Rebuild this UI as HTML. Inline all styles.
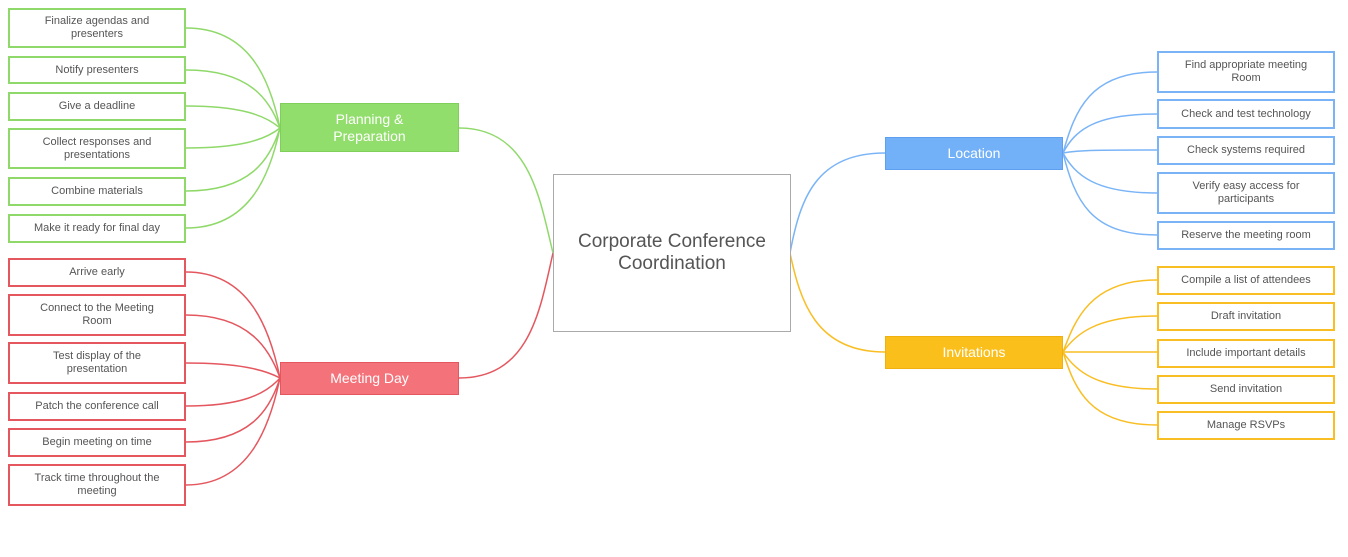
<!DOCTYPE html>
<html><head><meta charset="utf-8"><style>
body{margin:0;width:1348px;height:557px;background:#fff;overflow:hidden;font-family:"Liberation Sans",sans-serif}
.b{position:absolute;box-sizing:border-box;display:flex;align-items:center;justify-content:center;text-align:center;font-size:11px;color:#555;line-height:13px;background:#fff;border:2px solid}
.g{border-color:#8fd96a}.r{border-color:#e4575f}.bl{border-color:#7ab4f7}.y{border-color:#f8be24}
.m{color:#fff;font-size:14px;line-height:17px;border-width:1px}
</style></head><body>
<svg width="1348" height="557" style="position:absolute;left:0;top:0" fill="none" stroke-width="1.5">
<g stroke="#8fd96a">
<path d="M186,28 C250,28 270,80 280,128"/><path d="M186,70 C250,70 270,100 280,128"/><path d="M186,106 C240,106 265,115 280,128"/><path d="M186,148 C240,148 265,140 280,128"/><path d="M186,191 C250,191 270,160 280,128"/><path d="M186,228 C250,228 270,175 280,128"/>
<path d="M459,128 C530,128 540,200 553,253"/></g>
<g stroke="#e4575f">
<path d="M186,272 C250,272 270,330 280,378"/><path d="M186,315 C250,315 270,350 280,378"/><path d="M186,363 C240,363 265,370 280,378"/><path d="M186,406 C240,406 265,395 280,378"/><path d="M186,442 C250,442 270,410 280,378"/><path d="M186,485 C250,485 270,425 280,378"/>
<path d="M459,378 C530,378 540,310 553,253"/></g>
<g stroke="#7ab4f7">
<path d="M1157,72 C1090,72 1075,110 1063,153"/><path d="M1157,114 C1095,114 1075,130 1063,153"/><path d="M1157,150 C1100,150 1080,150 1063,153"/><path d="M1157,193 C1095,193 1075,175 1063,153"/><path d="M1157,235 C1090,235 1075,200 1063,153"/>
<path d="M790,253 C800,200 815,153 885,153"/></g>
<g stroke="#f8be24">
<path d="M1157,280 C1090,280 1075,320 1063,352"/><path d="M1157,316 C1095,316 1075,335 1063,352"/><path d="M1157,352 L1063,352"/><path d="M1157,389 C1095,389 1075,370 1063,352"/><path d="M1157,425 C1090,425 1075,390 1063,352"/>
<path d="M790,253 C800,300 815,352 885,352"/></g>
</svg>
<div class="b" style="left:553px;top:174px;width:238px;height:158px;border:1.5px solid #aaa;font-size:19px;line-height:22px;color:#555">Corporate Conference<br>Coordination</div>
<div class="b m" style="left:280px;top:103px;width:179px;height:49px;background:#92de6c;border-color:#7fcf5a">Planning &amp;<br>Preparation</div>
<div class="b m" style="left:280px;top:362px;width:179px;height:33px;background:#f4737a;border-color:#e4575f">Meeting Day</div>
<div class="b m" style="left:885px;top:137px;width:178px;height:33px;background:#72b0f8;border-color:#5e9ff0">Location</div>
<div class="b m" style="left:885px;top:336px;width:178px;height:33px;background:#fbbf1c;border-color:#f0b010">Invitations</div>
<div class="b g" style="left:8px;top:8px;width:178px;height:40px">Finalize agendas and<br>presenters</div>
<div class="b g" style="left:8px;top:56px;width:178px;height:28px">Notify presenters</div>
<div class="b g" style="left:8px;top:92px;width:178px;height:29px">Give a deadline</div>
<div class="b g" style="left:8px;top:128px;width:178px;height:41px">Collect responses and<br>presentations</div>
<div class="b g" style="left:8px;top:177px;width:178px;height:29px">Combine materials</div>
<div class="b g" style="left:8px;top:214px;width:178px;height:29px">Make it ready for final day</div>
<div class="b r" style="left:8px;top:258px;width:178px;height:29px">Arrive early</div>
<div class="b r" style="left:8px;top:294px;width:178px;height:42px">Connect to the Meeting<br>Room</div>
<div class="b r" style="left:8px;top:342px;width:178px;height:42px">Test display of the<br>presentation</div>
<div class="b r" style="left:8px;top:392px;width:178px;height:29px">Patch the conference call</div>
<div class="b r" style="left:8px;top:428px;width:178px;height:29px">Begin meeting on time</div>
<div class="b r" style="left:8px;top:464px;width:178px;height:42px">Track time throughout the<br>meeting</div>
<div class="b bl" style="left:1157px;top:51px;width:178px;height:42px">Find appropriate meeting<br>Room</div>
<div class="b bl" style="left:1157px;top:99px;width:178px;height:30px">Check and test technology</div>
<div class="b bl" style="left:1157px;top:136px;width:178px;height:29px">Check systems required</div>
<div class="b bl" style="left:1157px;top:172px;width:178px;height:42px">Verify easy access for<br>participants</div>
<div class="b bl" style="left:1157px;top:221px;width:178px;height:29px">Reserve the meeting room</div>
<div class="b y" style="left:1157px;top:266px;width:178px;height:29px">Compile a list of attendees</div>
<div class="b y" style="left:1157px;top:302px;width:178px;height:29px">Draft invitation</div>
<div class="b y" style="left:1157px;top:339px;width:178px;height:29px">Include important details</div>
<div class="b y" style="left:1157px;top:375px;width:178px;height:29px">Send invitation</div>
<div class="b y" style="left:1157px;top:411px;width:178px;height:29px">Manage RSVPs</div>
</body></html>
